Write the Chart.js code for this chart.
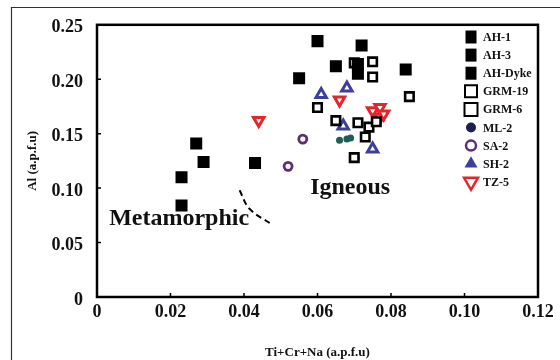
<!DOCTYPE html>
<html lang="en">
<head>
<meta charset="UTF-8">
<title>Al vs Ti+Cr+Na</title>
<script src="https://cdn.jsdelivr.net/npm/chart.js"></script>
<style>
  html, body { margin: 0; padding: 0; background: #fff; }
</style>
</head>
<body>
<canvas id="chart" width="560" height="360"></canvas>
<script>
// Ti+Cr+Na (x) against Al (y), both in a.p.f.u
const seriesNames = ['AH-1', 'AH-3', 'AH-Dyke', 'GRM-19', 'GRM-6', 'ML-2', 'SA-2', 'SH-2', 'TZ-5'];

const ah1X = [0.060, 0.072, 0.065, 0.084];
const ah1Y = [0.235, 0.231, 0.212, 0.209];
const ah3X = [0.071, 0.071, 0.055, 0.043];
const ah3Y = [0.214, 0.205, 0.201, 0.123];
const ahDykeX = [0.027, 0.029, 0.023, 0.023];
const ahDykeY = [0.141, 0.124, 0.110, 0.084];
const grm19X = [0.075, 0.070, 0.075, 0.085, 0.060, 0.065];
const grm19Y = [0.216, 0.215, 0.202, 0.184, 0.174, 0.162];
const grm6X = [0.071, 0.074, 0.076, 0.073, 0.070];
const grm6Y = [0.160, 0.156, 0.161, 0.147, 0.128];
const ml2X = [0.066, 0.068, 0.069];
const ml2Y = [0.144, 0.145, 0.146];
const sa2X = [0.056, 0.052, 0.070];
const sa2Y = [0.145, 0.120, 0.128];
const sh2X = [0.061, 0.068, 0.067, 0.075];
const sh2Y = [0.186, 0.192, 0.157, 0.136];
const tz5X = [0.044, 0.066, 0.075, 0.077, 0.077, 0.078];
const tz5Y = [0.162, 0.181, 0.171, 0.174, 0.165, 0.168];

// dashed boundary between the two fields
const boundaryX = [0.0388, 0.0415, 0.0474];
const boundaryY = [0.098, 0.081, 0.067];

// field labels: [text, x, y]
const fieldLabels = [['Igneous', 0.058, 0.095], ['Metamorphic', 0.0033, 0.0657]];

const serif = "'Liberation Serif', 'Times New Roman', serif";

function pts(xs, ys) {
    return xs.map((x, i) => ({ x: x, y: ys[i] }));
}

const filledSquare = { pointStyle: 'rect', pointRadius: 8.5, backgroundColor: '#000', borderColor: '#000', borderWidth: 0 };
const openSquare = { pointStyle: 'rect', pointRadius: 6, backgroundColor: '#fff', borderColor: '#000', borderWidth: 2.6 };

const datasets = [
    { label: 'AH-1', data: pts(ah1X, ah1Y), ...filledSquare },
    { label: 'AH-3', data: pts(ah3X, ah3Y), ...filledSquare },
    { label: 'AH-Dyke', data: pts(ahDykeX, ahDykeY), ...filledSquare },
    { label: 'GRM-19', data: pts(grm19X, grm19Y), ...openSquare },
    { label: 'GRM-6', data: pts(grm6X, grm6Y), ...openSquare },
    { label: 'ML-2', data: pts(ml2X, ml2Y), pointStyle: 'circle', pointRadius: 3.5, backgroundColor: '#1f5e54', borderColor: '#1f5e54', borderWidth: 0 },
    { label: 'SA-2', data: pts(sa2X, sa2Y), pointStyle: 'circle', pointRadius: 4, backgroundColor: '#fff', borderColor: '#5a2d7a', borderWidth: 2.8 },
    { label: 'SH-2', data: pts(sh2X, sh2Y), pointStyle: 'triangle', pointRadius: 6, backgroundColor: '#fff', borderColor: '#3d3f9e', borderWidth: 3 },
    { label: 'TZ-5', data: pts(tz5X, tz5Y), pointStyle: 'triangle', rotation: 180, pointRadius: 6, backgroundColor: '#fff', borderColor: '#e3262c', borderWidth: 3 },
    { label: 'boundary', data: pts(boundaryX, boundaryY), showLine: true, pointRadius: 0, borderColor: '#000', borderWidth: 2, borderDash: [6, 4], tension: 0.4, fill: false }
];

// legend marker looks (the legend in the figure is drawn a little differently from the points)
const legendMarks = [
    { shape: 'rect', w: 11, h: 13, fill: '#000', stroke: null },
    { shape: 'rect', w: 11, h: 13, fill: '#000', stroke: null },
    { shape: 'rect', w: 11, h: 13, fill: '#000', stroke: null },
    { shape: 'rect', w: 12, h: 12, fill: '#fff', stroke: '#000', lw: 2 },
    { shape: 'rect', w: 13, h: 13, fill: '#fff', stroke: '#000', lw: 2 },
    { shape: 'circle', r: 5, fill: '#1d1f50', stroke: null },
    { shape: 'circle', r: 5, fill: '#fff', stroke: '#5a2d7a', lw: 2.5 },
    { shape: 'tri', r: 7.5, fill: '#3d3f9e', stroke: null },
    { shape: 'triDown', r: 8, fill: '#fff', stroke: '#e3262c', lw: 2.5 }
];

function drawMark(ctx, m, x, y) {
    ctx.beginPath();
    if (m.shape === 'rect') {
        ctx.rect(x - m.w / 2, y - m.h / 2, m.w, m.h);
    } else if (m.shape === 'circle') {
        ctx.arc(x, y, m.r, 0, Math.PI * 2);
    } else {
        const dir = m.shape === 'tri' ? 1 : -1;
        const r = m.r;
        ctx.moveTo(x, y - dir * r);
        ctx.lineTo(x + r * 0.866, y + dir * r * 0.5);
        ctx.lineTo(x - r * 0.866, y + dir * r * 0.5);
        ctx.closePath();
    }
    ctx.fillStyle = m.fill;
    ctx.fill();
    if (m.stroke) {
        ctx.strokeStyle = m.stroke;
        ctx.lineWidth = m.lw;
        ctx.stroke();
    }
}

const decor = {
    id: 'decor',
    afterDraw(chart) {
        const { ctx, chartArea: a, scales: { x, y } } = chart;
        ctx.save();

        // thin outer frame of the figure
        ctx.strokeStyle = '#333';
        ctx.lineWidth = 1.2;
        ctx.beginPath();
        ctx.moveTo(11.5, 360);
        ctx.lineTo(11.5, 7.5);
        ctx.lineTo(560, 7.5);
        ctx.stroke();

        // plot box
        ctx.strokeStyle = '#000';
        ctx.lineWidth = 2.5;
        ctx.strokeRect(a.left, a.top, a.right - a.left, a.bottom - a.top);

        // inward tick marks
        ctx.lineWidth = 1.5;
        ctx.beginPath();
        x.ticks.forEach(t => {
            if (t.value <= x.min || t.value >= x.max - 1e-9) return;
            const px = x.getPixelForValue(t.value);
            ctx.moveTo(px, a.bottom);
            ctx.lineTo(px, a.bottom - 4);
        });
        y.ticks.forEach(t => {
            if (t.value <= y.min || t.value >= y.max - 1e-9) return;
            const py = y.getPixelForValue(t.value);
            ctx.moveTo(a.left, py);
            ctx.lineTo(a.left + 4, py);
        });
        ctx.stroke();

        // field names
        ctx.fillStyle = '#111';
        ctx.font = 'bold 24px ' + serif;
        ctx.textAlign = 'left';
        ctx.textBaseline = 'alphabetic';
        fieldLabels.forEach(([txt, vx, vy]) => {
            ctx.fillText(txt, x.getPixelForValue(vx), y.getPixelForValue(vy));
        });

        // legend inside the plot, top right
        ctx.font = 'bold 12px ' + serif;
        ctx.textBaseline = 'middle';
        seriesNames.forEach((name, i) => {
            const ly = 37 + i * 18.1;
            drawMark(ctx, legendMarks[i], 471, ly);
            ctx.fillStyle = '#111';
            ctx.fillText(name, 483, ly + 1);
        });

        ctx.restore();
    }
};

function fmt(v) {
    return v === 0 ? '0' : v.toFixed(2);
}

new Chart(document.getElementById('chart').getContext('2d'), {
    type: 'scatter',
    data: { datasets: datasets },
    options: {
        responsive: false,
        animation: false,
        devicePixelRatio: 1,
        layout: { padding: { top: 21, right: 22, left: 0, bottom: 0 } },
        plugins: {
            legend: { display: false },
            tooltip: { enabled: false }
        },
        scales: {
            x: {
                type: 'linear',
                min: 0,
                max: 0.12,
                grid: { display: false, drawTicks: false },
                border: { display: false },
                ticks: {
                    stepSize: 0.02,
                    padding: 5,
                    color: '#111',
                    maxRotation: 0,
                    font: { family: serif, weight: 'bold', size: 18 },
                    callback: fmt
                },
                title: {
                    display: true,
                    text: 'Ti+Cr+Na (a.p.f.u)',
                    color: '#111',
                    padding: { top: 0, bottom: 0 },
                    font: { family: serif, weight: 'bold', size: 13 }
                },
                afterFit: s => { s.height = 63; }
            },
            y: {
                type: 'linear',
                min: 0,
                max: 0.25,
                grid: { display: false, drawTicks: false },
                border: { display: false },
                ticks: {
                    stepSize: 0.05,
                    padding: 14,
                    labelOffset: 3,
                    color: '#111',
                    font: { family: serif, weight: 'bold', size: 18 },
                    callback: fmt
                },
                title: {
                    display: true,
                    text: 'Al (a.p.f.u)',
                    color: '#111',
                    padding: { top: 25, bottom: 0 },
                    font: { family: serif, weight: 'bold', size: 13 }
                },
                afterFit: s => { s.width = 97; }
            }
        }
    },
    plugins: [decor]
});
</script>
</body>
</html>
